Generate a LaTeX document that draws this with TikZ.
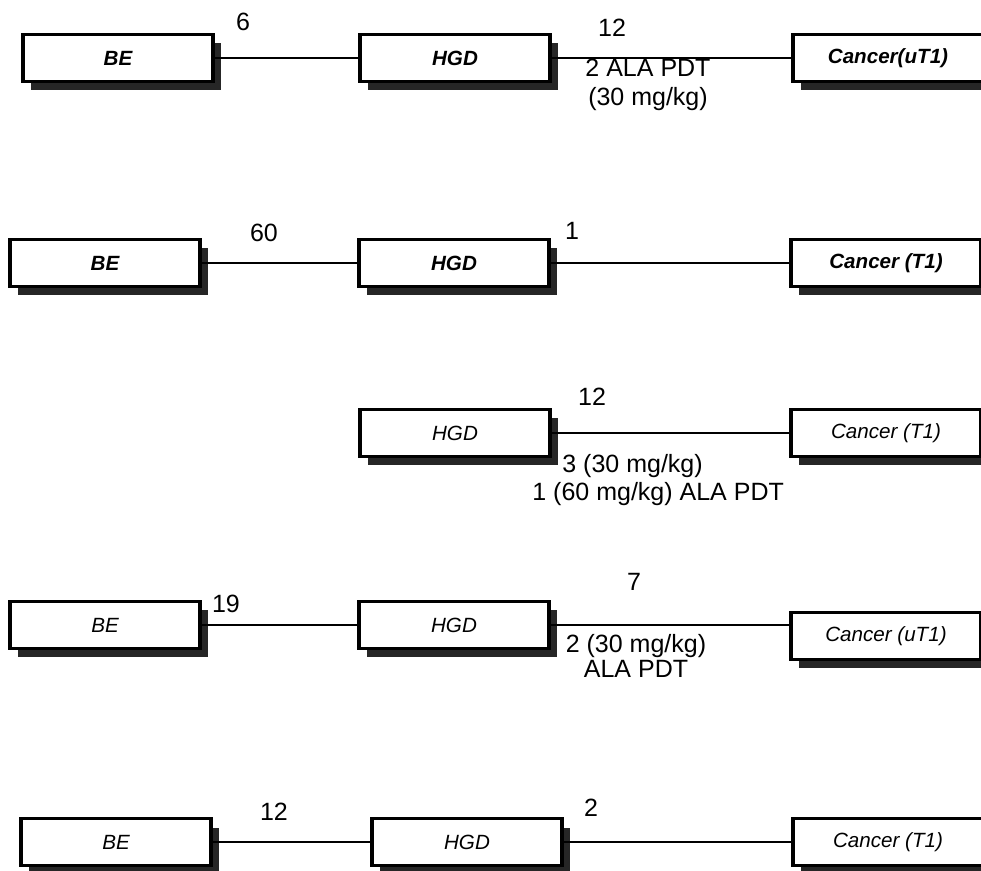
\documentclass[tikz,border=0pt]{standalone}
\usepackage{fontspec}
\setmainfont{Liberation Sans}
\usepackage{tikz}
\usetikzlibrary{shadows}

\begin{document}
\begin{tikzpicture}[x=0.5pt, y=-0.5pt,
  stage/.style={draw, line width=1.6pt, fill=white, minimum width=95pt,
    minimum height=23.5pt, inner sep=0pt,
    font=\fontsize{10.3}{12}\selectfont\itshape,
    drop shadow={shadow xshift=4pt, shadow yshift=-4.5pt, fill=black!85, opacity=1}},
  boldstage/.style={stage, font=\fontsize{10.3}{12}\selectfont\bfseries\itshape},
  link/.style={line width=0.75pt},
  count/.style={font=\fontsize{12.5}{14}\selectfont, inner sep=0pt},
  dose/.style={count, align=center}
]
\useasboundingbox (0,0) rectangle (981,871);
\clip (0,0) rectangle (981,871);

% Row 1
\node[boldstage] (be1) at (118,58) {BE};
\node[boldstage] (hgd1) at (455,58) {HGD};
\node[boldstage] (can1) at (888,58) {Cancer(uT1)};
\draw[link] (be1) -- (hgd1);
\draw[link] (hgd1) -- (can1);
\node[count] (n1a) at (243,22) {6};
\node[count] (n1b) at (612,28) {12};
\node[dose, font=\fontsize{12.5}{14.5}\selectfont] (d1) at (648,85) {2 ALA PDT\\(30 mg/kg)};

% Row 2
\node[boldstage] (be2) at (105,263) {BE};
\node[boldstage] (hgd2) at (454,263) {HGD};
\node[boldstage] (can2) at (886,263) {Cancer (T1)};
\draw[link] (be2) -- (hgd2);
\draw[link] (hgd2) -- (can2);
\node[count] (n2a) at (264,233) {60};
\node[count] (n2b) at (572,231) {1};

% Row 3
\node[stage] (hgd3) at (455,433) {HGD};
\node[stage] (can3) at (886,433) {Cancer (T1)};
\draw[link] (hgd3) -- (can3);
\node[count] (n3) at (592,397) {12};
\node[count, anchor=west] (d3a) at (562,466) {3 (30 mg/kg)};
\node[count, anchor=west] (d3b) at (532,494) {1 (60 mg/kg) ALA PDT};

% Row 4
\node[stage] (be4) at (105,625) {BE};
\node[stage] (hgd4) at (454,625) {HGD};
\node[stage] (can4) at (886,636) {Cancer (uT1)};
\draw[link] (be4) -- (hgd4);
\draw[link] (hgd4) -- (hgd4 -| can4.west);
\node[count] (n4a) at (226,604) {19};
\node[count] (n4b) at (634,582) {7};
\node[dose, font=\fontsize{12.5}{12.5}\selectfont] (d4) at (636,656) {2 (30 mg/kg)\\ALA PDT};

% Row 5
\node[stage] (be5) at (116,842) {BE};
\node[stage] (hgd5) at (467,842) {HGD};
\node[stage] (can5) at (888,842) {Cancer (T1)};
\draw[link] (be5) -- (hgd5);
\draw[link] (hgd5) -- (can5);
\node[count] (n5a) at (274,812) {12};
\node[count] (n5b) at (591,808) {2};

\end{tikzpicture}
\end{document}
